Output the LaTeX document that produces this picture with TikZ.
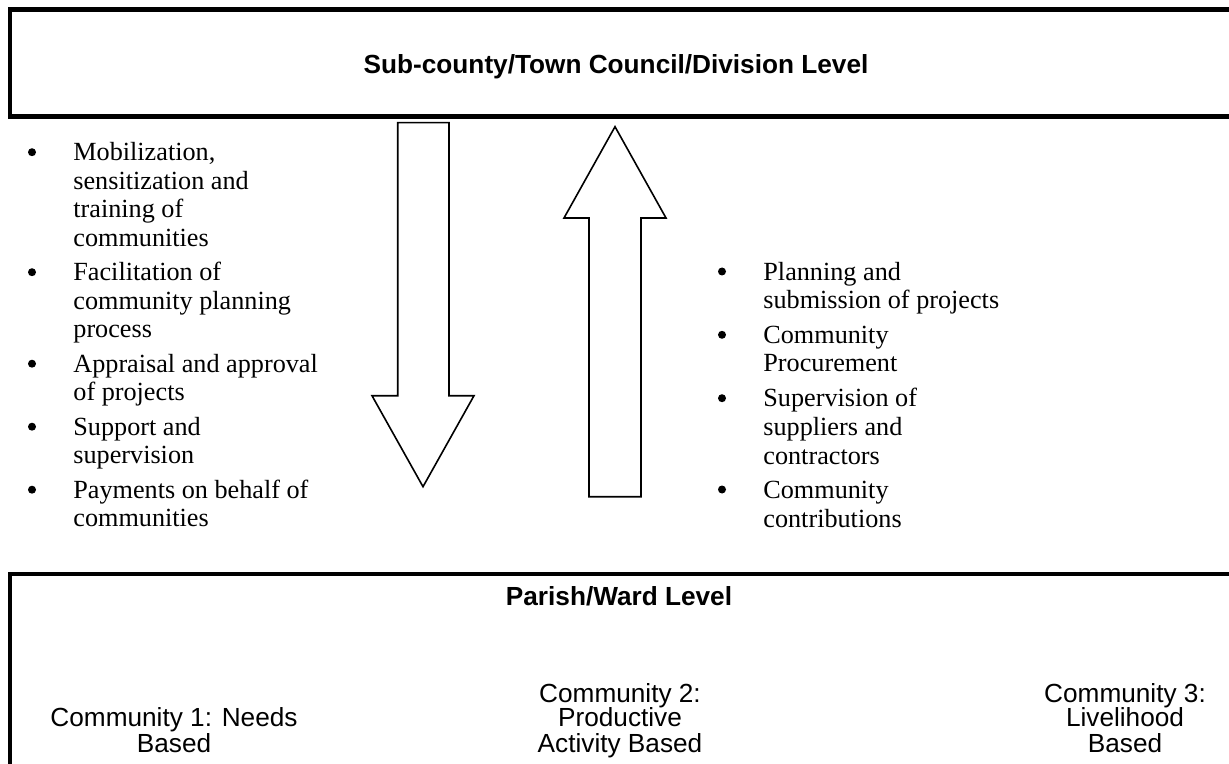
\documentclass[tikz,border=0pt]{standalone}
\usepackage{fontspec}
\setmainfont{Liberation Serif}
\newfontfamily\arialfont{Liberation Sans}
\begin{document}
\begin{tikzpicture}[x=0.5pt,y=-0.5pt,
  boxline/.style={draw=black,line width=2.25pt},
  blockarrow/.style={draw=black,line width=0.8pt,fill=white,line join=miter},
  lvl/.style={font=\arialfont\bfseries\fontsize{13.1}{15}\selectfont,inner sep=0pt,anchor=base},
  comm/.style={font=\arialfont\fontsize{13.1}{15}\selectfont,inner sep=0pt,anchor=base},
  item/.style={font=\fontsize{13.1}{15}\selectfont,inner sep=0pt,anchor=base west},
  bul/.style={fill=black}
]
\useasboundingbox (0,0) rectangle (1229,764);
\clip (0,0) rectangle (1229,764);
\fill[white] (0,0) rectangle (1229,764);

% top box
\draw[boxline] (1260,9.3) -- (10,9.3) -- (10,116.7) -- (1260,116.7);
\node[lvl] (toplabel) at (616,73.3) {Sub-county/Town Council/Division Level};

% bottom box
\draw[boxline] (1260,574) -- (10,574) -- (10,790);
\node[lvl] (parish) at (619,605) {Parish/Ward Level};

% block arrows
\draw[blockarrow] (397.7,122.7) -- (449,122.7) -- (449,395.7) -- (474,395.7) -- (423,486.7) -- (372,395.7) -- (397.7,395.7) -- cycle;
\draw[blockarrow] (615,126.7) -- (666,218) -- (641,218) -- (641,496.7) -- (589,496.7) -- (589,218) -- (564,218) -- cycle;

% left list
\foreach \yy/\tt [count=\i] in {160.7/{Mobilization,},189.2/{sensitization and},217.7/{training of},246.2/{communities},
  280.7/{Facilitation of},309.2/{community planning},337.7/{process},
  372.2/{Appraisal and approval},400.7/{of projects},
  435.2/{Support and},463.7/{supervision},
  498.2/{Payments on behalf of},526.7/{communities}}
  \node[item] (L\i) at (73,\yy) {\tt};
\foreach \yy [count=\i] in {160.7,280.7,372.2,435.2,498.2}
  \fill[bul] (32,\yy-8.5) circle (4);

% right list
\foreach \yy/\tt [count=\i] in {280/{Planning and},308.3/{submission of projects},
  343.3/{Community},371.7/{Procurement},
  406.7/{Supervision of},435/{suppliers and},464/{contractors},
  498/{Community},527/{contributions}}
  \node[item] (R\i) at (763,\yy) {\tt};
\foreach \yy [count=\i] in {280,343.3,406.7,498}
  \fill[bul] (722,\yy-8.5) circle (4);

% communities
\node[comm] (c1a) at (174,726) {Community 1: Needs};
\node[comm] (c1b) at (174,752) {Based};
\node[comm] (c2a) at (620,702) {Community 2:};
\node[comm] (c2b) at (620,726) {Productive};
\node[comm] (c2c) at (620,752) {Activity Based};
\node[comm] (c3a) at (1125,702) {Community 3:};
\node[comm] (c3b) at (1125,726) {Livelihood};
\node[comm] (c3c) at (1125,752) {Based};
\end{tikzpicture}
\end{document}
